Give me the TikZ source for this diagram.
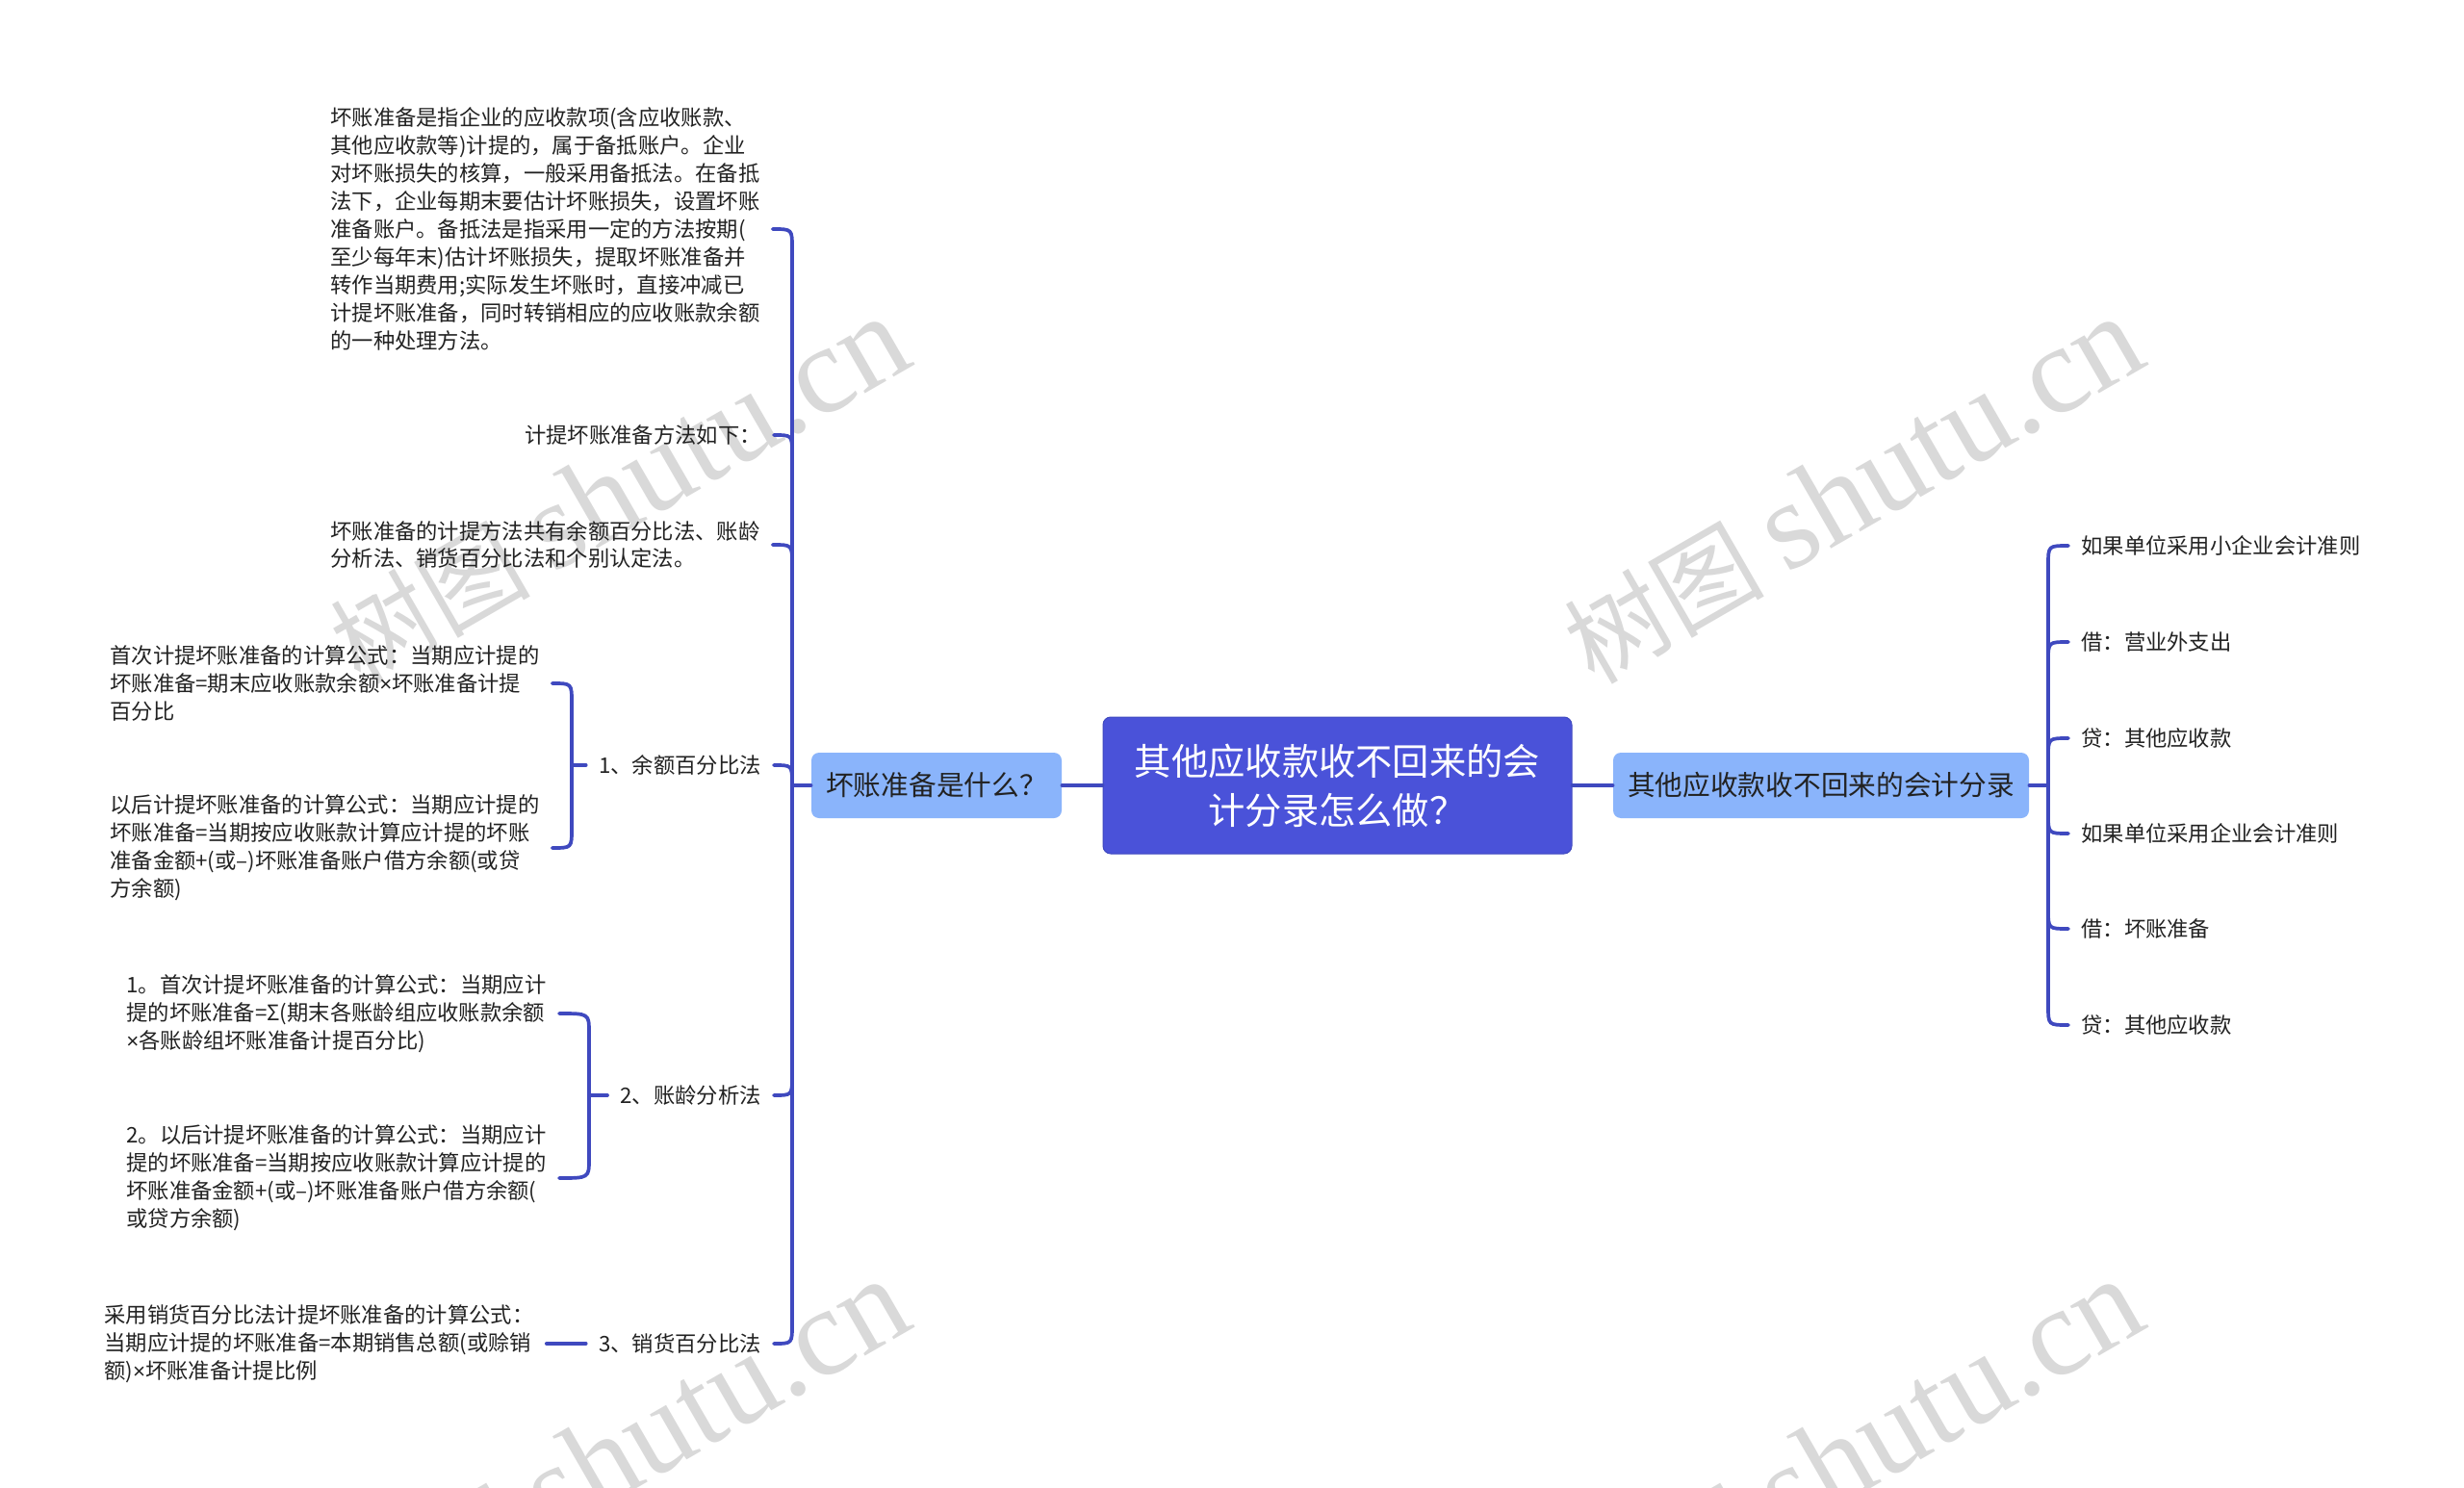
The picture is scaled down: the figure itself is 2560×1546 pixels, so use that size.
\documentclass[tikz,border=0pt]{standalone}
\usepackage{fontspec}
\setmainfont{Noto Sans CJK SC}
\newfontfamily\wmlatin{Liberation Serif}
\newfontfamily\lat{Liberation Sans}
\usetikzlibrary{calc}
\definecolor{linkc}{HTML}{3F49BF}
\definecolor{rootc}{HTML}{4A52D9}
\definecolor{sidec}{HTML}{8AB4FB}
\definecolor{inkc}{HTML}{222222}
\definecolor{wmc}{HTML}{D9D9D9}
\tikzset{
  link/.style={draw=linkc,line width=1.85pt,line cap=round},
  rootbox/.style={fill=rootc,draw=linkc,line width=.5pt,rounded corners=4pt,text=white,align=center,font=\fontsize{19.15}{25.5}\selectfont,inner sep=0pt},
  sidebox/.style={fill=sidec,rounded corners=4pt,text=inkc,align=center,font=\fontsize{14.35}{18}\selectfont,inner sep=0pt},
  leaf/.style={text=inkc,align=left,font=\fontsize{11.15}{14.45}\selectfont,inner ysep=0pt,inner xsep=6.5pt},
  wm/.style={text=wmc,rotate=30,inner sep=0pt},
}
\newcommand{\wmtext}{\fontsize{52}{60}\selectfont 树图 {\wmlatin\fontsize{65}{60}\selectfont shutu.cn}}
\newcommand{\tm}{{\lat ×}}
\newcommand{\fcm}{\char"FF0C\relax}
\newcommand{\fcl}{\char"FF1A\relax}
\newcommand{\fqm}{\char"FF1F\relax}
\begin{document}
\begin{tikzpicture}[x=.5pt,y=-.5pt]
\useasboundingbox (0,0) rectangle (2560,1546);
\clip (0,0) rectangle (2560,1546);
\fill[white] (0,0) rectangle (2560,1546);
% watermark
\node[wm] (w1) at (643,510) {\wmtext};
\node[wm] (w2) at (1925,510) {\wmtext};
\node[wm] (w3) at (643,1510) {\wmtext};
\node[wm] (w4) at (1925,1510) {\wmtext};
% central nodes
\node[rootbox,minimum width=243.5pt,minimum height=71pt] (root) at (1389.5,816) {其他应收款收不回来的会\\计分录怎么做\fqm};
\node[sidebox,minimum width=130pt,minimum height=34pt] (ql) at (973,816) {坏账准备是什么\fqm};
\node[sidebox,minimum width=216pt,minimum height=34pt] (qr) at (1892,816) {其他应收款收不回来的会计分录};
% left level 2
\node[leaf,anchor=west] (a1) at (330,238) {坏账准备是指企业的应收款项(含应收账款、\\其他应收款等)计提的\fcm 属于备抵账户。企业\\对坏账损失的核算\fcm 一般采用备抵法。在备抵\\法下\fcm 企业每期末要估计坏账损失\fcm 设置坏账\\准备账户。备抵法是指采用一定的方法按期(\\至少每年末)估计坏账损失\fcm 提取坏账准备并\\转作当期费用;实际发生坏账时\fcm 直接冲减已\\计提坏账准备\fcm 同时转销相应的应收账款余额\\的一种处理方法。};
\node[leaf,anchor=east] (a2) at (804,452) {计提坏账准备方法如下\fcl};
\node[leaf,anchor=west] (a3) at (330,566) {坏账准备的计提方法共有余额百分比法、账龄\\分析法、销货百分比法和个别认定法。};
\node[leaf,anchor=east] (a4) at (804,795) {1、余额百分比法};
\node[leaf,anchor=east] (a5) at (804,1138) {2、账龄分析法};
\node[leaf,anchor=east] (a6) at (804,1396) {3、销货百分比法};
% left level 3
\node[leaf,anchor=west] (b1) at (101,710) {首次计提坏账准备的计算公式\fcl 当期应计提的\\坏账准备=期末应收账款余额\tm 坏账准备计提\\百分比};
\node[leaf,anchor=west] (b2) at (101,881) {以后计提坏账准备的计算公式\fcl 当期应计提的\\坏账准备=当期按应收账款计算应计提的坏账\\准备金额+(或–)坏账准备账户借方余额(或贷\\方余额)};
\node[leaf,anchor=west] (c1) at (118,1053) {1。首次计提坏账准备的计算公式\fcl 当期应计\\提的坏账准备=Σ(期末各账龄组应收账款余额\\\tm 各账龄组坏账准备计提百分比)};
\node[leaf,anchor=west] (c2) at (118,1224) {2。以后计提坏账准备的计算公式\fcl 当期应计\\提的坏账准备=当期按应收账款计算应计提的\\坏账准备金额+(或–)坏账准备账户借方余额(\\或贷方余额)};
\node[leaf,anchor=west] (d1) at (95,1396) {采用销货百分比法计提坏账准备的计算公式\fcl\\当期应计提的坏账准备=本期销售总额(或赊销\\额)\tm 坏账准备计提比例};
% right leaves
\node[leaf,anchor=west] (r1) at (2149,567) {如果单位采用小企业会计准则};
\node[leaf,anchor=west] (r2) at (2149,667) {借\fcl 营业外支出};
\node[leaf,anchor=west] (r3) at (2149,767) {贷\fcl 其他应收款};
\node[leaf,anchor=west] (r4) at (2149,866) {如果单位采用企业会计准则};
\node[leaf,anchor=west] (r5) at (2149,965) {借\fcl 坏账准备};
\node[leaf,anchor=west] (r6) at (2149,1065) {贷\fcl 其他应收款};
% spine reference points
\coordinate (tl) at (823,816);
\coordinate (tr) at (2128,816);
\coordinate (tb1) at (594,795);
\coordinate (tb2) at (612,1138);
% central links
\draw[link] (ql.east) -- (root.west);
\draw[link] (root.east) -- (qr.west);
\draw[link] (ql.west) -- (tl);
\draw[link] (qr.east) -- (tr);
% left spine and branches
\draw[link] ($(a1.east -| tl)+(0,20)$) -- ($(a6.east -| tl)+(0,-20)$);
\foreach \n in {a1,a2,a3,a4}
  \draw[link] (\n.east) .. controls (\n.east -| tl) .. ($(\n.east -| tl)+(0,20)$);
\foreach \n in {a5,a6}
  \draw[link] (\n.east) .. controls (\n.east -| tl) .. ($(\n.east -| tl)+(0,-20)$);
% bracket 1
\draw[link] ($(b1.east -| tb1)+(0,20)$) -- ($(b2.east -| tb1)+(0,-20)$);
\draw[link] (b1.east) .. controls (b1.east -| tb1) .. ($(b1.east -| tb1)+(0,20)$);
\draw[link] (b2.east) .. controls (b2.east -| tb1) .. ($(b2.east -| tb1)+(0,-20)$);
\draw[link] (a4.west) -- (tb1);
% bracket 2
\draw[link] ($(c1.east -| tb2)+(0,20)$) -- ($(c2.east -| tb2)+(0,-20)$);
\draw[link] (c1.east) .. controls (c1.east -| tb2) .. ($(c1.east -| tb2)+(0,20)$);
\draw[link] (c2.east) .. controls (c2.east -| tb2) .. ($(c2.east -| tb2)+(0,-20)$);
\draw[link] (a5.west) -- (tb2);
% third
\draw[link] (a6.west) -- (d1.east);
% right spine and branches
\draw[link] ($(r1.west -| tr)+(0,20)$) -- ($(r6.west -| tr)+(0,-20)$);
\foreach \n in {r1,r2,r3}
  \draw[link] (\n.west) .. controls (\n.west -| tr) .. ($(\n.west -| tr)+(0,20)$);
\foreach \n in {r4,r5,r6}
  \draw[link] (\n.west) .. controls (\n.west -| tr) .. ($(\n.west -| tr)+(0,-20)$);
\end{tikzpicture}
\end{document}
